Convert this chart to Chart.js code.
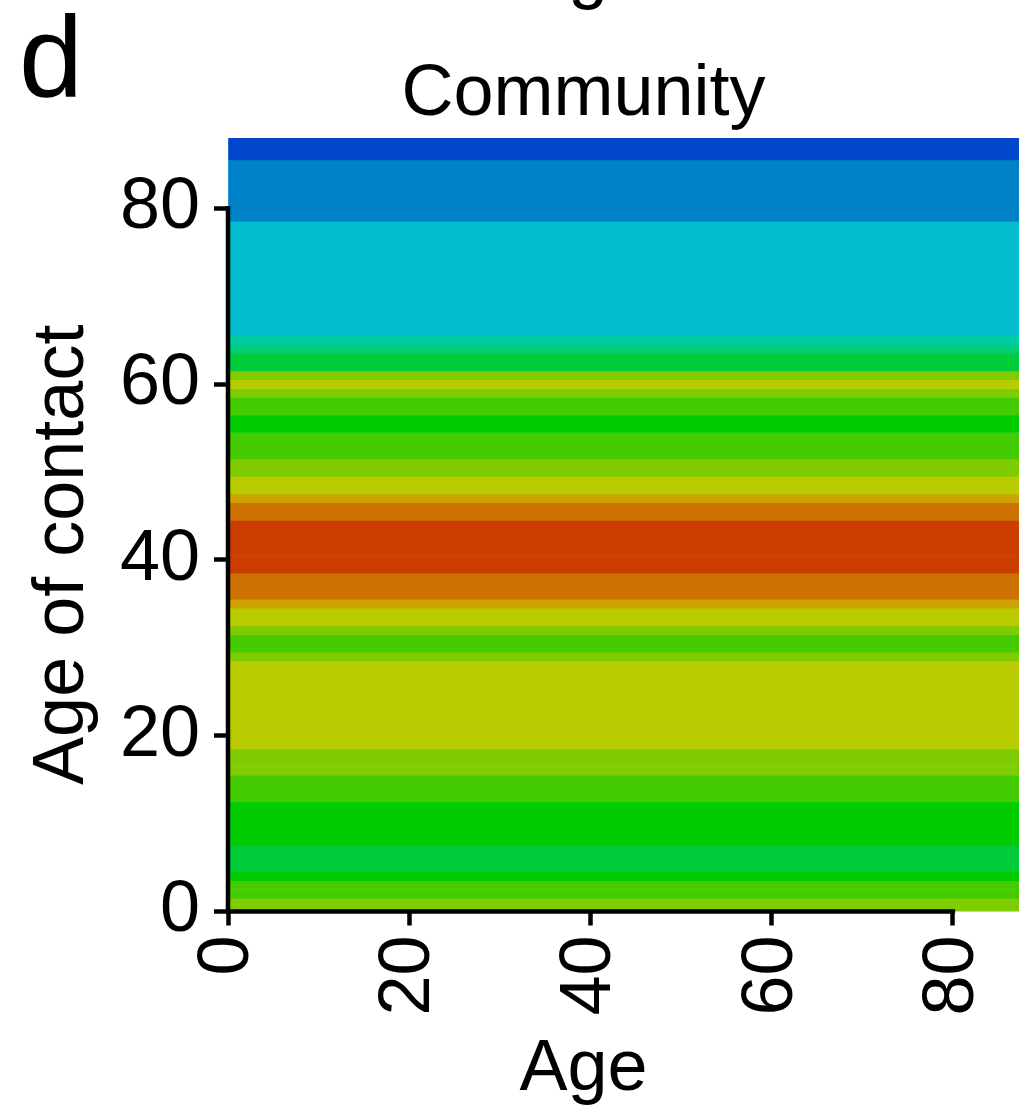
<!DOCTYPE html>
<html>
<head>
<meta charset="utf-8">
<script src="https://cdn.jsdelivr.net/npm/chart.js@4.4.1/dist/chart.umd.min.js"></script>
<style>
  html, body { margin: 0; padding: 0; background: #fff; overflow: hidden; }
</style>
</head>
<body>
<canvas id="myChart" width="1019" height="1112"></canvas>
<script>
// colour level of each age-of-contact row (0 = lowest / blue ... 12 = highest / red), rows 0..88
var contactLevel = [8, 8, 7, 7, 6, 5, 5, 5, 6, 6,
  6, 6, 6, 7, 7, 7, 8, 8, 8, 9,
  9, 9, 9, 9, 9, 9, 9, 9, 9, 8,
  7, 7, 8, 9, 9, 10, 11, 11, 11, 12,
  12, 12, 12, 12, 12, 11, 11, 10, 9, 9,
  8, 8, 7, 7, 7, 6, 6, 7, 7, 8,
  9, 8, 5, 5, 4, 3, 2, 2, 2, 2,
  2, 2, 2, 2, 2, 2, 2, 2, 2, 1,
  1, 1, 1, 1, 1, 1, 0, 0, 0];
var ageOfContact = contactLevel.map(function (v, i) { return i; });
var ageRange = [0, 88];
var colourScale = ['#0047cc', '#0082c9', '#00bccc', '#00cca3', '#00cc75', '#00cc3a', '#00cc00',
  '#44cc00', '#7fcc00', '#b9cc00', '#cca300', '#cc7200', '#cc3d00'];
var ageTicks = [0, 20, 40, 60, 80];

var FONT = '"Liberation Sans", Arial, Helvetica, sans-serif';

// axis lines only run from first to last tick
var axisLines = {
  id: 'axisLines',
  afterDatasetsDraw: function (chart) {
    var ctx = chart.ctx, x = chart.scales.x, y = chart.scales.y;
    var x0 = x.getPixelForValue(ageTicks[0]), y0 = y.getPixelForValue(ageTicks[0]);
    ctx.save();
    ctx.strokeStyle = '#000';
    ctx.lineWidth = 4.5;
    ctx.lineCap = 'square';
    ctx.beginPath();
    ctx.moveTo(x0, y.getPixelForValue(ageTicks[ageTicks.length - 1]));
    ctx.lineTo(x0, y0);
    ctx.lineTo(x.getPixelForValue(ageTicks[ageTicks.length - 1]), y0);
    ctx.stroke();
    ctx.restore();
  }
};

// panel letter + tail of the title of the panel above
var panelText = {
  id: 'panelText',
  afterDraw: function (chart) {
    var ctx = chart.ctx;
    ctx.save();
    ctx.fillStyle = '#000';
    ctx.textAlign = 'left';
    ctx.textBaseline = 'alphabetic';
    ctx.font = '115px ' + FONT;
    ctx.fillText('d', 19, 96);
    ctx.font = '72px ' + FONT;
    ctx.fillText('g', 568, -5);
    ctx.restore();
  }
};

function tickGrid() {
  return {
    offset: false,
    drawOnChartArea: false,
    drawTicks: true,
    tickLength: 14,
    tickWidth: 4.5,
    tickColor: '#000'
  };
}

new Chart(document.getElementById('myChart').getContext('2d'), {
  type: 'bar',
  data: {
    datasets: [{
      label: 'Community',
      data: ageOfContact.map(function (a) { return { y: a, x: ageRange }; }),
      backgroundColor: contactLevel.map(function (l) { return colourScale[l]; }),
      borderWidth: 0,
      barPercentage: 1,
      categoryPercentage: 1
    }]
  },
  options: {
    indexAxis: 'y',
    responsive: false,
    animation: false,
    layout: { padding: 0 },
    plugins: {
      legend: { display: false },
      tooltip: { enabled: false },
      title: {
        display: true,
        text: 'Community    ',
        fullSize: false,
        color: '#000',
        font: { family: FONT, size: 72, weight: 'normal', lineHeight: 1 },
        padding: { top: 59, bottom: 7 }
      }
    },
    scales: {
      x: {
        type: 'linear',
        min: 0,
        max: 87.3,   // panel is cropped at the right edge
        offset: false,
        grid: tickGrid(),
        border: { display: false },
        ticks: {
          stepSize: 20,
          includeBounds: false,
          autoSkip: false,
          minRotation: 90,
          maxRotation: 90,
          padding: 10,
          color: '#000',
          font: { family: FONT, size: 72 }
        },
        title: {
          display: true,
          text: 'Age    ',
          color: '#000',
          font: { family: FONT, size: 72, lineHeight: 1 },
          padding: { top: 0, bottom: 6 }
        },
        afterFit: function (scale) {
          scale.height = 200.5;
          scale.paddingLeft = 0;
          scale.paddingRight = 0;
        }
      },
      y: {
        type: 'linear',
        min: 0,
        max: 88,
        offset: false,
        grid: tickGrid(),
        border: { display: false },
        ticks: {
          stepSize: 20,
          includeBounds: false,
          autoSkip: false,
          padding: 14,
          color: '#000',
          font: { family: FONT, size: 72 }
        },
        title: {
          display: true,
          text: 'Age of contact   ',
          color: '#000',
          font: { family: FONT, size: 72, lineHeight: 1.2 },
          padding: { top: 20, bottom: 0 }
        },
        afterFit: function (scale) { scale.width = 228; }
      }
    }
  },
  plugins: [axisLines, panelText]
});
</script>
</body>
</html>
